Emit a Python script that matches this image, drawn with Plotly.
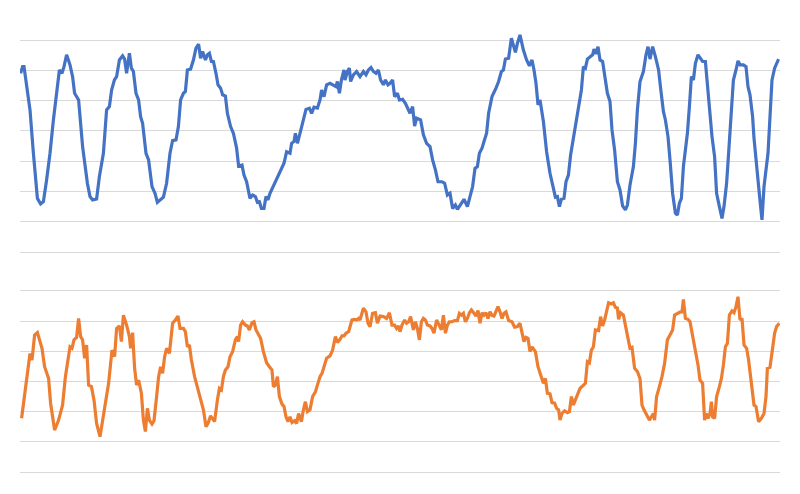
import plotly.graph_objects as go

# ---- data (sample index, value) ----
blue_t = [0.3, 1.3, 2.0, 3.3, 5.0, 6.7, 8.7, 10.3, 11.7, 13.3, 15.0, 16.7, 18.3, 19.7, 21.0, 22.0, 23.3, 25.0, 26.3, 27.3,
          29.3, 31.3, 33.7, 35.0, 36.3, 38.3, 39.7, 41.7, 43.3, 44.7, 45.8, 47.2, 48.3, 49.7, 51.3, 52.3, 53.3, 54.7, 55.7, 56.7,
          58.0, 59.3, 60.3, 61.3, 63.0, 64.3, 66.0, 67.5, 68.7, 70.0, 71.7, 73.3, 75.0, 76.3, 78.0, 79.2, 80.3, 81.7, 82.7, 83.7,
          85.3, 86.7, 88.0, 89.3, 90.3, 91.3, 92.7, 93.7, 94.7, 95.7, 96.7, 98.0, 99.0, 100.3, 101.3, 102.7, 103.7, 105.3, 106.7, 108.3,
          109.3, 111.0, 112.0, 113.3, 115.0, 116.3, 117.7, 118.7, 119.7, 120.7, 122.0, 123.0, 124.0, 125.0, 125.8, 128.3, 130.7, 132.0, 133.3, 135.0,
          135.8, 137.0, 137.7, 138.7, 140.0, 141.7, 143.0, 144.7, 145.8, 147.0, 148.7, 150.0, 150.8, 152.0, 153.3, 155.0, 156.7, 158.0, 158.7, 159.7,
          160.7, 162.0, 162.5, 163.7, 164.7, 165.3, 166.7, 168.3, 170.0, 171.7, 173.0, 174.2, 175.5, 176.7, 178.0, 179.2, 180.3, 181.7, 182.7, 184.0,
          185.0, 186.3, 187.3, 188.7, 189.7, 191.3, 192.7, 194.0, 195.0, 196.3, 197.3, 198.3, 200.3, 201.7, 203.3, 205.0, 206.3, 207.7, 209.0, 211.0,
          212.3, 213.7, 215.0, 216.3, 217.7, 218.7, 220.0, 222.0, 223.7, 225.0, 226.3, 227.5, 228.7, 229.7, 231.0, 232.0, 233.3, 234.3, 236.0, 238.0,
          239.3, 240.7, 241.7, 242.7, 244.3, 245.7, 246.7, 247.7, 248.7, 250.0, 251.7, 253.3, 254.7, 256.0, 257.0, 258.0, 259.0, 260.0, 261.7, 263.3,
          265.0, 266.7, 267.7, 268.7, 269.7, 270.7, 272.0, 273.0, 274.2, 275.3, 277.0, 278.3, 279.7, 280.7, 281.7, 282.7, 283.7, 285.0, 286.3, 287.0,
          288.0, 289.0, 290.0, 291.3, 292.7, 293.7, 295.0, 296.0, 297.3, 298.7, 300.0, 301.3, 302.7, 303.7, 305.0, 306.7, 307.7, 308.7, 310.0, 311.7,
          313.0, 314.0, 315.0, 316.3, 317.7, 319.3, 320.3, 321.7, 322.7, 324.0, 325.0, 326.3, 327.7, 328.7, 329.7, 330.7, 331.7, 332.5, 333.7, 334.7,
          335.7, 336.7, 337.7, 339.0, 340.3, 341.3, 342.7, 343.7, 345.0, 346.0, 347.3, 348.3, 349.7, 351.0, 352.0, 353.3, 354.3, 355.3, 356.7, 358.0,
          359.0, 360.0, 361.7, 363.0, 364.0, 365.0, 366.3, 367.0, 368.0, 369.0, 370.3, 371.0, 372.0, 373.0, 374.0, 375.0, 376.0, 377.3, 379.3]
blue_v = [59.0, 61.2, 61.2, 54.6, 46.9, 32.6, 17.7, 15.9, 16.6, 23.8, 32.6, 43.6, 52.4, 60.1, 59.0, 61.2, 65.1, 61.8, 57.9, 52.4,
          50.2, 34.8, 22.7, 18.3, 17.2, 17.5, 24.9, 32.6, 46.9, 48.0, 53.5, 56.8, 57.9, 63.4, 64.8, 63.7, 59.0, 65.6, 60.7, 59.6,
          52.4, 50.2, 44.7, 42.5, 32.6, 30.4, 21.6, 19.4, 16.4, 17.2, 18.1, 22.7, 32.6, 36.8, 37.0, 41.4, 50.2, 52.4, 53.0, 60.1,
          60.4, 63.4, 67.3, 68.6, 64.0, 66.2, 63.4, 65.1, 65.6, 62.9, 62.9, 59.0, 55.2, 54.1, 51.9, 51.5, 45.8, 41.4, 39.2, 34.3,
          28.4, 28.7, 25.4, 23.2, 17.7, 18.8, 18.3, 16.4, 16.6, 14.4, 14.4, 18.3, 17.2, 19.4, 20.5, 23.8, 27.6, 29.3, 33.1, 32.6,
          35.9, 36.5, 39.2, 35.9, 39.2, 43.6, 47.1, 47.5, 45.8, 47.8, 47.5, 50.2, 53.5, 51.3, 55.2, 55.7, 55.2, 54.6, 56.3, 52.4,
          56.8, 60.1, 56.8, 59.6, 60.7, 56.3, 58.5, 59.6, 57.9, 59.6, 58.5, 60.1, 60.9, 59.6, 59.0, 60.1, 56.8, 55.2, 56.8, 55.2,
          55.7, 56.8, 51.3, 52.4, 50.2, 50.4, 49.1, 47.5, 45.8, 48.0, 41.6, 44.2, 43.6, 38.7, 35.9, 34.8, 30.4, 27.1, 23.2, 23.2,
          22.7, 18.8, 19.4, 14.4, 15.5, 14.1, 15.5, 17.4, 15.0, 18.8, 21.6, 27.6, 28.2, 32.6, 34.3, 36.5, 39.2, 45.8, 51.3, 54.1,
          56.3, 59.6, 60.1, 63.7, 64.0, 70.6, 68.4, 65.9, 68.9, 71.7, 66.7, 63.4, 61.5, 63.4, 60.1, 55.7, 48.6, 50.2, 43.1, 33.1,
          26.0, 21.6, 18.1, 18.3, 15.0, 17.4, 17.7, 23.2, 25.4, 32.0, 39.2, 43.6, 50.2, 53.5, 61.2, 60.7, 63.7, 64.3, 65.1, 67.0,
          65.4, 67.8, 63.4, 62.9, 57.4, 52.4, 49.7, 40.3, 33.7, 23.2, 20.5, 15.2, 13.9, 15.5, 22.1, 28.2, 35.9, 46.9, 56.3, 59.6,
          65.1, 67.8, 63.7, 67.8, 64.5, 60.1, 54.1, 46.4, 43.6, 38.1, 30.4, 19.4, 12.8, 12.2, 16.1, 17.7, 28.2, 32.6, 39.2, 48.0,
          57.9, 56.8, 62.3, 65.1, 64.0, 62.9, 62.9, 54.6, 46.9, 38.1, 31.5, 19.4, 15.0, 11.1, 15.0, 22.7, 32.6, 43.6, 56.8, 60.1,
          63.1, 61.8, 61.8, 61.2, 54.6, 51.9, 44.7, 37.6, 29.3, 23.8, 15.0, 10.6, 21.6, 28.2, 32.6, 44.7, 56.8, 60.7, 63.7]

orange_t = [0.8, 2.0, 3.3, 5.0, 6.0, 7.3, 8.7, 9.7, 11.0, 12.3, 13.3, 14.3, 15.3, 17.3, 19.3, 21.3, 22.7, 24.0, 25.0, 26.0,
            27.0, 28.3, 29.3, 30.3, 31.3, 32.3, 33.3, 34.3, 35.7, 37.0, 38.3, 40.0, 41.3, 42.7, 44.3, 46.0, 47.3, 48.3, 49.7, 50.7,
            51.7, 53.3, 54.7, 55.3, 56.3, 57.3, 58.3, 59.3, 60.7, 61.7, 62.7, 63.7, 64.7, 66.0, 67.0, 68.3, 69.3, 70.3, 71.3, 72.3,
            73.3, 74.7, 75.3, 76.3, 77.7, 79.0, 80.0, 81.7, 82.7, 83.7, 84.7, 85.7, 87.3, 89.0, 90.3, 91.7, 93.0, 94.0, 95.3, 97.3,
            98.7, 99.7, 100.7, 101.7, 102.7, 104.0, 105.0, 106.3, 107.7, 108.7, 109.3, 110.3, 111.3, 112.7, 113.7, 114.7, 116.0, 117.0, 118.0, 119.3,
            120.3, 121.7, 123.3, 124.7, 126.0, 126.7, 127.7, 128.7, 129.7, 131.0, 132.0, 133.0, 134.0, 135.0, 136.0, 137.3, 138.3, 139.3, 140.7, 141.7,
            142.7, 143.7, 145.0, 146.3, 147.7, 148.7, 150.0, 151.0, 152.3, 153.3, 155.0, 156.3, 157.7, 158.7, 160.0, 161.0, 162.0, 163.0, 164.3, 166.0,
            167.3, 168.3, 169.3, 170.0, 171.7, 173.0, 174.0, 175.0, 176.3, 177.7, 178.7, 180.0, 181.7, 183.3, 184.7, 186.0, 187.3, 188.3, 189.3, 190.0,
            191.0, 192.3, 193.3, 194.3, 195.3, 196.7, 197.7, 198.7, 199.7, 200.7, 201.7, 202.7, 203.7, 205.0, 206.0, 207.0, 208.3, 209.7, 210.7, 211.7,
            212.7, 213.7, 214.7, 216.0, 217.3, 218.7, 219.7, 220.7, 221.7, 222.7, 223.7, 224.7, 225.7, 227.0, 228.0, 229.0, 230.0, 231.0, 232.0, 233.0,
            234.0, 235.0, 236.0, 237.0, 238.0, 239.0, 240.0, 241.0, 242.0, 243.0, 244.3, 246.0, 247.3, 248.7, 249.7, 250.0, 251.0, 252.0, 253.0, 254.0,
            255.0, 256.0, 257.7, 259.0, 260.3, 261.7, 262.7, 263.7, 265.0, 266.0, 267.3, 268.3, 269.3, 270.0, 271.0, 272.3, 273.7, 274.7, 275.7, 276.7,
            277.7, 279.0, 280.0, 281.3, 282.7, 283.7, 284.7, 285.7, 286.7, 287.7, 289.3, 290.3, 291.3, 292.3, 293.3, 294.3, 295.7, 296.7, 297.7, 298.7,
            299.3, 300.3, 301.7, 302.7, 304.0, 305.0, 306.0, 307.3, 308.7, 310.0, 311.0, 312.0, 313.3, 314.7, 315.7, 316.7, 317.3, 318.3, 319.7, 321.0,
            322.3, 323.7, 325.0, 326.3, 327.3, 328.7, 330.0, 331.0, 331.7, 332.7, 334.0, 335.0, 336.3, 337.7, 339.0, 340.0, 341.3, 342.3, 343.0, 344.0,
            345.0, 345.7, 346.3, 347.3, 348.3, 349.7, 350.7, 351.7, 352.7, 353.7, 354.7, 356.0, 357.0, 358.0, 359.0, 360.0, 361.0, 362.0, 363.3, 364.3,
            365.7, 367.0, 368.0, 369.3, 370.7, 372.0, 373.0, 373.7, 375.0, 376.0, 377.3, 378.3, 379.7]
orange_v = [17.8, 23.9, 31.6, 39.3, 37.1, 45.4, 46.2, 43.8, 41.0, 34.9, 32.7, 31.0, 22.8, 13.9, 17.2, 22.2, 31.6, 38.2, 41.5, 41.0,
            43.8, 44.6, 50.9, 44.9, 43.8, 37.7, 42.1, 28.8, 28.3, 23.9, 16.1, 11.7, 17.2, 22.8, 29.4, 40.4, 38.2, 47.6, 48.4, 43.2,
            52.0, 48.7, 44.9, 41.0, 46.2, 34.4, 28.8, 30.5, 26.1, 17.2, 13.4, 21.1, 17.2, 15.9, 17.0, 25.0, 31.6, 34.9, 32.7, 38.2,
            41.0, 39.3, 43.8, 49.3, 50.4, 51.7, 47.6, 47.6, 46.5, 41.5, 42.1, 37.1, 31.6, 27.2, 23.9, 20.6, 15.0, 16.1, 18.6, 16.7,
            23.9, 27.7, 27.2, 31.6, 33.8, 34.9, 38.2, 39.9, 43.8, 44.9, 43.2, 48.7, 49.8, 48.7, 48.4, 47.1, 49.5, 49.8, 47.1, 45.4,
            44.3, 39.9, 36.2, 34.9, 33.8, 28.3, 28.8, 31.6, 25.0, 22.5, 21.7, 18.3, 16.7, 18.3, 16.4, 17.0, 16.1, 19.4, 16.7, 20.6,
            23.3, 20.0, 20.6, 25.0, 26.6, 28.8, 31.6, 32.7, 35.5, 37.7, 38.5, 40.4, 44.9, 42.9, 44.0, 45.1, 45.1, 46.0, 46.5, 50.4,
            50.6, 50.4, 50.9, 50.4, 54.3, 53.1, 49.3, 48.2, 52.6, 52.8, 49.3, 51.7, 51.5, 50.9, 52.8, 48.7, 48.7, 47.6, 48.4, 46.5,
            48.7, 50.4, 49.3, 49.8, 51.5, 47.1, 49.8, 47.6, 43.8, 49.8, 50.9, 50.4, 48.7, 48.4, 47.6, 46.0, 50.4, 48.2, 47.1, 52.0,
            46.0, 48.7, 49.8, 49.8, 50.2, 50.2, 52.6, 52.0, 52.6, 49.8, 50.9, 52.8, 53.7, 52.6, 51.7, 53.5, 49.3, 52.8, 52.0, 52.8,
            50.9, 53.1, 51.9, 51.7, 53.1, 54.8, 53.1, 50.9, 52.6, 53.1, 50.2, 49.8, 48.0, 48.2, 49.1, 49.3, 46.2, 43.2, 44.6, 44.3,
            39.9, 41.5, 39.9, 34.9, 32.2, 29.4, 31.0, 26.1, 25.9, 23.0, 22.8, 21.1, 20.6, 17.2, 19.4, 20.3, 19.7, 20.0, 25.0, 22.2,
            23.9, 26.1, 27.7, 28.5, 29.4, 36.6, 36.2, 40.4, 41.5, 47.1, 46.9, 51.5, 48.4, 50.4, 53.7, 56.1, 55.7, 56.1, 54.6, 54.3,
            50.6, 52.8, 52.0, 49.1, 44.3, 41.0, 41.3, 34.4, 33.3, 31.0, 22.2, 20.6, 18.9, 17.2, 18.3, 19.4, 17.2, 25.0, 28.3, 31.6,
            36.0, 43.8, 45.4, 47.1, 52.0, 52.6, 53.0, 53.1, 57.2, 50.9, 50.6, 49.8, 45.1, 40.4, 35.5, 30.5, 29.4, 17.2, 19.4, 17.8,
            19.4, 23.3, 18.3, 17.8, 25.0, 28.3, 31.0, 35.5, 41.5, 42.7, 52.0, 53.4, 52.8, 54.8, 58.1, 50.4, 50.9, 42.1, 41.0, 37.1,
            28.3, 22.2, 21.7, 16.7, 17.8, 19.4, 25.0, 34.4, 34.7, 40.4, 46.0, 48.2, 49.3]

BLUE = "#4472C4"
ORANGE = "#ED7D31"
GRID = "#D9D9D9"

fig = go.Figure()
fig.add_trace(go.Scatter(x=blue_t, y=blue_v, mode="lines", name="Series 1",
                         line=dict(color=BLUE, width=3.2), xaxis="x", yaxis="y"))
fig.add_trace(go.Scatter(x=orange_t, y=orange_v, mode="lines", name="Series 2",
                         line=dict(color=ORANGE, width=3.2), xaxis="x2", yaxis="y2"))

xcommon = dict(domain=[0.015, 0.965], range=[0, 380], showgrid=False, showticklabels=False,
               zeroline=False, showline=False, ticks="")
ycommon = dict(dtick=10, tick0=0, showgrid=True, gridcolor=GRID, gridwidth=1,
               showticklabels=False, zeroline=False, showline=False, ticks="")

fig.update_layout(
    width=800, height=494,
    margin=dict(l=0, r=0, t=0, b=0),
    paper_bgcolor="white", plot_bgcolor="white",
    showlegend=False,
    xaxis=dict(**xcommon, anchor="y"),
    xaxis2=dict(**xcommon, anchor="y2"),
    yaxis=dict(**ycommon, domain=[0.47543, 0.96587], range=[-5, 75], anchor="x"),
    yaxis2=dict(**ycommon, domain=[0.03018, 0.45769], range=[-5, 65], anchor="x2"),
    shapes=[dict(type="line", xref="paper", yref="paper", x0=0.98375, x1=0.98375,
                 y0=0.02429, y1=0.47368, line=dict(color=GRID, width=1))],
)

fig.write_html("out.html")
